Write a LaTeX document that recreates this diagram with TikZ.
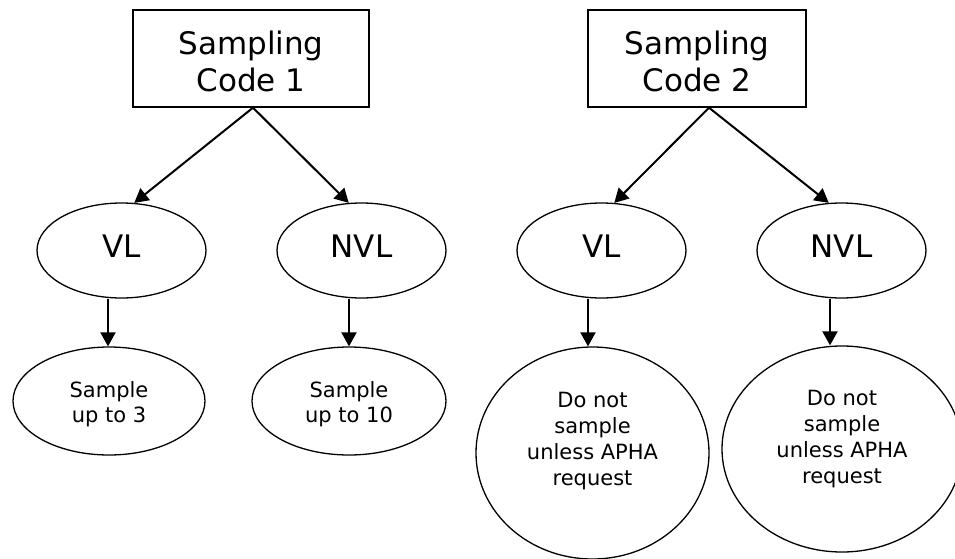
\documentclass[tikz,border=0pt]{standalone}
\usepackage{fontspec}
\setmainfont{DejaVu Sans}
\usetikzlibrary{shapes.geometric,arrows.meta}
\begin{document}
\begin{tikzpicture}[x=1pt,y=-1pt,
  codebox/.style={draw,line width=1.4pt,inner sep=0pt,minimum height=97pt},
  ell/.style={draw,ellipse,line width=1.3pt,inner sep=0pt},
  bigtxt/.style={font=\fontsize{31}{37}\selectfont,align=center,inner sep=0pt},
  smalltxt/.style={font=\fontsize{21}{25.7}\selectfont,align=center,inner sep=0pt},
  arr/.style={line width=2pt,-{Triangle[length=14pt,width=15pt]}},
]
\path[fill=white,use as bounding box] (0,0) rectangle (955,559);

% ---- Sampling code 1 ----
\node[codebox,minimum width=236pt] (code1) at (251,58.5) {};
\node[bigtxt] (code1t) at (251,61.7) {Sampling\\Code 1};

\node[ell,minimum width=169pt,minimum height=95pt] (vl1) at (121.5,250.5) {};
\node[bigtxt] (vl1t) at (121.5,245.7) {VL};
\node[ell,minimum width=169pt,minimum height=95pt] (nvl1) at (361.5,250.5) {};
\node[bigtxt] (nvl1t) at (361.5,245.7) {NVL};

\node[ell,minimum width=192pt,minimum height=108pt] (s1) at (109,401) {};
\node[smalltxt] (s1t) at (109,404.2) {Sample\\up to 3};
\node[ell,minimum width=194pt,minimum height=108pt] (s2) at (349,401) {};
\node[smalltxt] (s2t) at (349,404.2) {Sample\\up to 10};

% ---- Sampling code 2 ----
\node[codebox,minimum width=218pt] (code2) at (697,58.5) {};
\node[bigtxt] (code2t) at (697,61.7) {Sampling\\Code 2};

\node[ell,minimum width=169pt,minimum height=95pt] (vl2) at (601.5,250.5) {};
\node[bigtxt] (vl2t) at (601.5,245.7) {VL};
\node[ell,minimum width=169pt,minimum height=95pt] (nvl2) at (841.5,250.5) {};
\node[bigtxt] (nvl2t) at (841.5,245.7) {NVL};

\node[ell,minimum width=233pt,minimum height=212pt] (s3) at (592.5,453) {};
\node[smalltxt] (s3t) at (592.5,441) {Do not\\sample\\unless APHA\\request};
\node[ell,minimum width=240pt,minimum height=206pt] (s4) at (842,449) {};
\node[smalltxt] (s4t) at (842,439) {Do not\\sample\\unless APHA\\request};

% ---- connectors ----
\coordinate (b1) at ([xshift=2pt]code1.south);
\coordinate (b2) at ([xshift=12pt]code2.south);
\coordinate (a1) at ([xshift=-13.5pt]vl1.south);
\coordinate (a2) at ([xshift=-12.5pt]nvl1.south);
\coordinate (a3) at ([xshift=-13.5pt]vl2.south);
\coordinate (a4) at ([xshift=-11.5pt]nvl2.south);

\draw[arr] (b1) -- (vl1.75);
\draw[arr] (b1) -- (nvl1.105);
\draw[arr] (b2) -- (vl2.75);
\draw[arr] (b2) -- (nvl2.105);

\draw[arr] (a1) -- (a1 |- s1.north);
\draw[arr] (a2) -- (a2 |- s2.north);
\draw[arr] (a3) -- (a3 |- s3.north);
\draw[arr] (a4) -- (a4 |- s4.north);
\end{tikzpicture}
\end{document}
